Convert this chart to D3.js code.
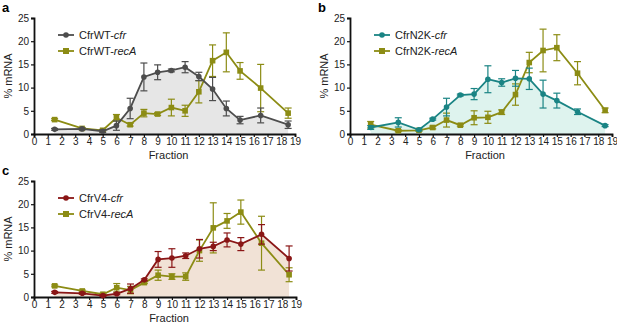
<!DOCTYPE html>
<html>
<head>
<meta charset="utf-8">
<script src="https://cdn.jsdelivr.net/npm/d3@7"></script>
<style>
  body { margin: 0; background: #fff; }
  svg { font-family: "Liberation Sans", Arial, sans-serif; }
</style>
</head>
<body>
<svg id="chart" width="617" height="323"></svg>
<script>
// fractions (x) shared by all panels
const fractions = [1.5, 3.5, 5, 6, 7, 8, 9, 10, 11, 12, 13, 14, 15, 16.5, 18.5];
const xTicks = d3.range(0, 20);
const yTicks = [0, 5, 10, 15, 20, 25];

// panel a
const wtCfr     = [1.0, 1.1, 0.6, 1.8, 5.5, 12.3, 13.3, 13.7, 14.4, 12.4, 9.7, 5.5, 3.0, 4.0, 2.0];
const wtCfrErr  = [0.2, 0.2, 0.3, 1.0, 2.2, 3.0, 1.6, 0.3, 1.2, 0.9, 2.5, 1.6, 0.8, 1.6, 0.8];
const wtRecA    = [3.1, 1.2, 0.8, 3.5, 2.0, 4.5, 4.3, 5.7, 5.0, 9.1, 15.8, 17.6, 13.6, 9.9, 4.5];
const wtRecAErr = [0.2, 0.2, 0.2, 0.7, 0.3, 0.8, 0.3, 1.8, 1.2, 2.4, 3.4, 4.2, 1.8, 5.1, 1.1];

// panel b
const n2kCfr     = [1.4, 2.5, 0.9, 3.2, 5.8, 8.4, 8.6, 11.8, 11.1, 12.0, 11.9, 8.6, 7.2, 4.8, 1.8];
const n2kCfrErr  = [0.4, 1.0, 0.2, 0.2, 1.9, 0.2, 1.2, 2.9, 0.8, 1.7, 2.3, 3.0, 1.6, 0.6, 0.2];
const n2kRecA    = [2.0, 0.7, 0.8, 1.4, 3.0, 1.9, 3.5, 3.6, 4.7, 8.5, 15.4, 18.0, 18.6, 13.1, 5.1];
const n2kRecAErr = [0.7, 0.2, 0.2, 0.3, 1.5, 0.2, 1.5, 1.3, 0.5, 2.3, 2.2, 4.6, 2.8, 2.5, 0.5];

// panel c
const v4Cfr     = [1.0, 0.8, 0.3, 0.7, 1.8, 3.7, 8.1, 8.4, 8.9, 10.4, 10.9, 12.3, 11.4, 13.5, 8.3];
const v4CfrErr  = [0.2, 0.2, 0.2, 0.2, 1.0, 0.2, 1.7, 2.0, 0.6, 2.0, 0.9, 1.5, 1.4, 2.1, 2.7];
const v4RecA    = [2.4, 1.3, 0.6, 2.0, 1.5, 3.1, 4.7, 4.4, 4.4, 10.0, 14.9, 16.4, 18.3, 11.6, 4.8];
const v4RecAErr = [0.2, 0.2, 0.2, 0.9, 0.8, 0.2, 1.1, 0.6, 0.8, 2.3, 5.4, 1.6, 2.6, 5.8, 1.5];

const panels = [
  { tag: "a", x0: 34, x1: 295, y0: 134, y1: 18,
    names: ["CfrWT-", "CfrWT-"], fill: "#e6e6e6",
    lineColor: "#4d4d4d", cfr: wtCfr, cfrErr: wtCfrErr, recA: wtRecA, recAErr: wtRecAErr },
  { tag: "b", x0: 350, x1: 612, y0: 134, y1: 18,
    names: ["CfrN2K-", "CfrN2K-"], fill: "#def3ee",
    lineColor: "#1a8484", cfr: n2kCfr, cfrErr: n2kCfrErr, recA: n2kRecA, recAErr: n2kRecAErr },
  { tag: "c", x0: 34, x1: 296, y0: 297, y1: 181,
    names: ["CfrV4-", "CfrV4-"], fill: "#f1e2d6",
    lineColor: "#8a1616", cfr: v4Cfr, cfrErr: v4CfrErr, recA: v4RecA, recAErr: v4RecAErr }
];
const olive = "#8c8c14";

const svg = d3.select("#chart");

panels.forEach(p => {
  const g = svg.append("g");
  const x = d3.scaleLinear().domain([0, 19]).range([p.x0, p.x1]);
  const y = d3.scaleLinear().domain([0, 25]).range([p.y0, p.y1]);

  const cfrData = fractions.map((f, i) => ({ f: f, v: p.cfr[i], e: p.cfrErr[i] }));
  const recData = fractions.map((f, i) => ({ f: f, v: p.recA[i], e: p.recAErr[i] }));

  // shaded area under cfr
  g.append("path")
    .datum(cfrData)
    .attr("fill", p.fill)
    .attr("d", d3.area().x(d => x(d.f)).y0(y(0)).y1(d => y(d.v)));

  // axes
  const xAxis = g.append("g")
    .attr("transform", "translate(0," + y(0) + ")")
    .call(d3.axisBottom(x).tickValues(xTicks).tickFormat(d3.format("d")).tickSize(3).tickPadding(1));
  const yAxis = g.append("g")
    .attr("transform", "translate(" + x(0) + ",0)")
    .call(d3.axisLeft(y).tickValues(yTicks).tickSize(3).tickPadding(2));
  [xAxis, yAxis].forEach(a => {
    a.select(".domain").attr("stroke", "#111").attr("stroke-width", 1.8);
    a.selectAll(".tick line").attr("stroke", "#111").attr("stroke-width", 1.2);
    a.selectAll("text").attr("font-size", 10).attr("fill", "#222")
      .attr("font-family", "Liberation Sans, Arial, sans-serif");
  });

  // axis titles
  g.append("text")
    .attr("x", (p.x0 + p.x1) / 2 + 4).attr("y", p.y0 + 25)
    .attr("text-anchor", "middle").attr("font-size", 11).attr("fill", "#222")
    .text("Fraction");
  g.append("text")
    .attr("transform", "translate(" + (p.x0 - 22) + "," + ((p.y0 + p.y1) / 2) + ") rotate(-90)")
    .attr("text-anchor", "middle").attr("font-size", 11).attr("fill", "#222")
    .text("% mRNA");

  // panel letter
  g.append("text")
    .attr("x", p.x0 - 32).attr("y", p.y1 - 6)
    .attr("font-size", 13).attr("font-weight", "bold")
    .text(p.tag);

  function drawSeries(data, color, square) {
    const s = g.append("g");
    // error bars
    const eb = s.selectAll(".eb").data(data).enter().append("g");
    eb.append("line")
      .attr("x1", d => x(d.f)).attr("x2", d => x(d.f))
      .attr("y1", d => y(d.v - d.e)).attr("y2", d => y(d.v + d.e))
      .attr("stroke", color).attr("stroke-width", 1.2);
    [-1, 1].forEach(sign => {
      eb.append("line")
        .attr("x1", d => x(d.f) - 3.5).attr("x2", d => x(d.f) + 3.5)
        .attr("y1", d => y(d.v + sign * d.e)).attr("y2", d => y(d.v + sign * d.e))
        .attr("stroke", color).attr("stroke-width", 1.2);
    });
    s.append("path")
      .datum(data)
      .attr("fill", "none").attr("stroke", color).attr("stroke-width", 1.8)
      .attr("d", d3.line().x(d => x(d.f)).y(d => y(d.v)));
    if (square) {
      s.selectAll("rect").data(data).enter().append("rect")
        .attr("x", d => x(d.f) - 2.8).attr("y", d => y(d.v) - 2.8)
        .attr("width", 5.6).attr("height", 5.6).attr("fill", color);
    } else {
      s.selectAll("circle").data(data).enter().append("circle")
        .attr("cx", d => x(d.f)).attr("cy", d => y(d.v)).attr("r", 2.8)
        .attr("fill", color);
    }
  }
  drawSeries(recData, olive, true);
  drawSeries(cfrData, p.lineColor, false);

  // legend
  const lx = p.x0 + 24, ly = p.y1 + 17;
  const items = [
    { color: p.lineColor, square: false, name: p.names[0], gene: "cfr" },
    { color: olive, square: true, name: p.names[1], gene: "recA" }
  ];
  items.forEach((it, i) => {
    const yy = ly + i * 16;
    g.append("line").attr("x1", lx).attr("x2", lx + 16).attr("y1", yy).attr("y2", yy)
      .attr("stroke", it.color).attr("stroke-width", 1.8);
    if (it.square) {
      g.append("rect").attr("x", lx + 5).attr("y", yy - 3).attr("width", 6).attr("height", 6)
        .attr("fill", it.color);
    } else {
      g.append("circle").attr("cx", lx + 8).attr("cy", yy).attr("r", 2.8).attr("fill", it.color);
    }
    const t = g.append("text").attr("x", lx + 21).attr("y", yy + 4)
      .attr("font-size", 11).attr("fill", "#222");
    t.append("tspan").text(it.name);
    t.append("tspan").attr("font-style", "italic").text(it.gene);
  });
});
</script>
</body>
</html>
